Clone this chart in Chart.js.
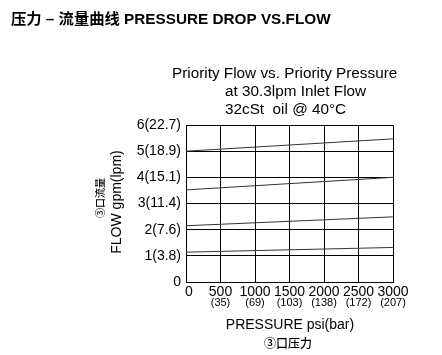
<!DOCTYPE html>
<html>
<head>
<meta charset="utf-8">
<script src="https://cdn.jsdelivr.net/npm/chart.js@4"></script>
<style>
  html, body { margin: 0; padding: 0; background: #fff; }
  #wrap { width: 442px; height: 355px; position: relative; }
</style>
</head>
<body>
<div id="wrap"><canvas id="flowChart" width="442" height="355"></canvas></div>
<script>
// pressure in psi (x) and flow in gpm (y)
var pressurePsi = [0, 3000];
var flowLine1 = [5.0, 5.47];
var flowLine2 = [3.52, 4.0];
var flowLine3 = [2.15, 2.49];
var flowLine4 = [1.14, 1.32];

var xTicks = [0, 500, 1000, 1500, 2000, 2500, 3000];
var xTickBar = ["", "(35)", "(69)", "(103)", "(138)", "(172)", "(207)"];
var yTicks = [0, 1, 2, 3, 4, 5, 6];
var yTickLabels = ["0", "1(3.8)", "2(7.6)", "3(11.4)", "4(15.1)", "5(18.9)", "6(22.7)"];

var titleLines = ["Priority Flow vs. Priority Pressure", "at 30.3lpm Inlet Flow", "32cSt  oil @ 40°C"];

function toPoints(ys) {
  return pressurePsi.map(function(p, i) { return { x: p, y: ys[i] }; });
}

var lineStyle = { borderColor: "#333", borderWidth: 1, pointRadius: 0, fill: false, tension: 0 };

// draws header, chart title, tick labels and axis titles
var textPlugin = {
  id: "textPlugin",
  afterDraw: function(chart) {
    var ctx = chart.ctx;
    var xs = chart.scales.x;
    var ys = chart.scales.y;
    var area = chart.chartArea;
    ctx.save();
    ctx.fillStyle = "#000";

    ctx.font = "bold 15.3px 'Liberation Sans', Arial, 'Noto Sans CJK SC'";
    ctx.textAlign = "left";
    ctx.textBaseline = "middle";
    ctx.fillText("压力 – 流量曲线 PRESSURE DROP VS.FLOW", 11, 20);

    ctx.font = "15.3px 'Liberation Sans', Arial";
    ctx.fillText(titleLines[0], 172, 74);
    ctx.fillText(titleLines[1], 225, 92);
    ctx.fillText(titleLines[2], 225, 110);

    // y tick labels
    ctx.font = "14px 'Liberation Sans', Arial";
    ctx.textAlign = "right";
    for (var i = 0; i < yTicks.length; i++) {
      ctx.fillText(yTickLabels[i], area.left - 5, ys.getPixelForValue(yTicks[i]));
    }

    // x tick labels, psi and bar
    ctx.textAlign = "center";
    for (var j = 0; j < xTicks.length; j++) {
      var px = xs.getPixelForValue(xTicks[j]);
      if (j === 0) px += 3;
      ctx.font = "14px 'Liberation Sans', Arial";
      ctx.fillText(String(xTicks[j]), px, area.bottom + 10);
      ctx.font = "11px 'Liberation Sans', Arial";
      ctx.fillText(xTickBar[j], px, area.bottom + 21);
    }

    // x axis title
    ctx.font = "14px 'Liberation Sans', Arial";
    ctx.fillText("PRESSURE psi(bar)", 290, 325);
    ctx.font = "500 12px 'Noto Sans CJK SC'";
    ctx.fillText("③口压力", 288, 343);

    // y axis title
    ctx.save();
    ctx.translate(100, 198);
    ctx.rotate(-Math.PI / 2);
    ctx.font = "500 10px 'Noto Sans CJK SC'";
    ctx.fillText("③口流量", 0, 0);
    ctx.restore();
    ctx.save();
    ctx.translate(117, 202);
    ctx.rotate(-Math.PI / 2);
    ctx.font = "14px 'Liberation Sans', Arial";
    ctx.fillText("FLOW gpm(lpm)", 0, 0);
    ctx.restore();

    ctx.restore();
  }
};

var ctx = document.getElementById("flowChart").getContext("2d");
new Chart(ctx, {
  type: "line",
  data: {
    datasets: [
      Object.assign({ label: "line1", data: toPoints(flowLine1) }, lineStyle),
      Object.assign({ label: "line2", data: toPoints(flowLine2) }, lineStyle),
      Object.assign({ label: "line3", data: toPoints(flowLine3) }, lineStyle),
      Object.assign({ label: "line4", data: toPoints(flowLine4) }, lineStyle)
    ]
  },
  options: {
    responsive: false,
    animation: false,
    layout: { padding: { left: 186, top: 125, right: 49, bottom: 73 } },
    plugins: { legend: { display: false }, tooltip: { enabled: false }, title: { display: false } },
    scales: {
      x: {
        type: "linear", min: 0, max: 3000,
        ticks: { display: false, stepSize: 500 },
        grid: { color: "#000", lineWidth: 1, drawTicks: false },
        border: { color: "#000", width: 1 }
      },
      y: {
        type: "linear", min: 0, max: 6,
        ticks: { display: false, stepSize: 1 },
        grid: { color: "#000", lineWidth: 1, drawTicks: false },
        border: { color: "#000", width: 1 }
      }
    }
  },
  plugins: [textPlugin]
});
</script>
</body>
</html>
